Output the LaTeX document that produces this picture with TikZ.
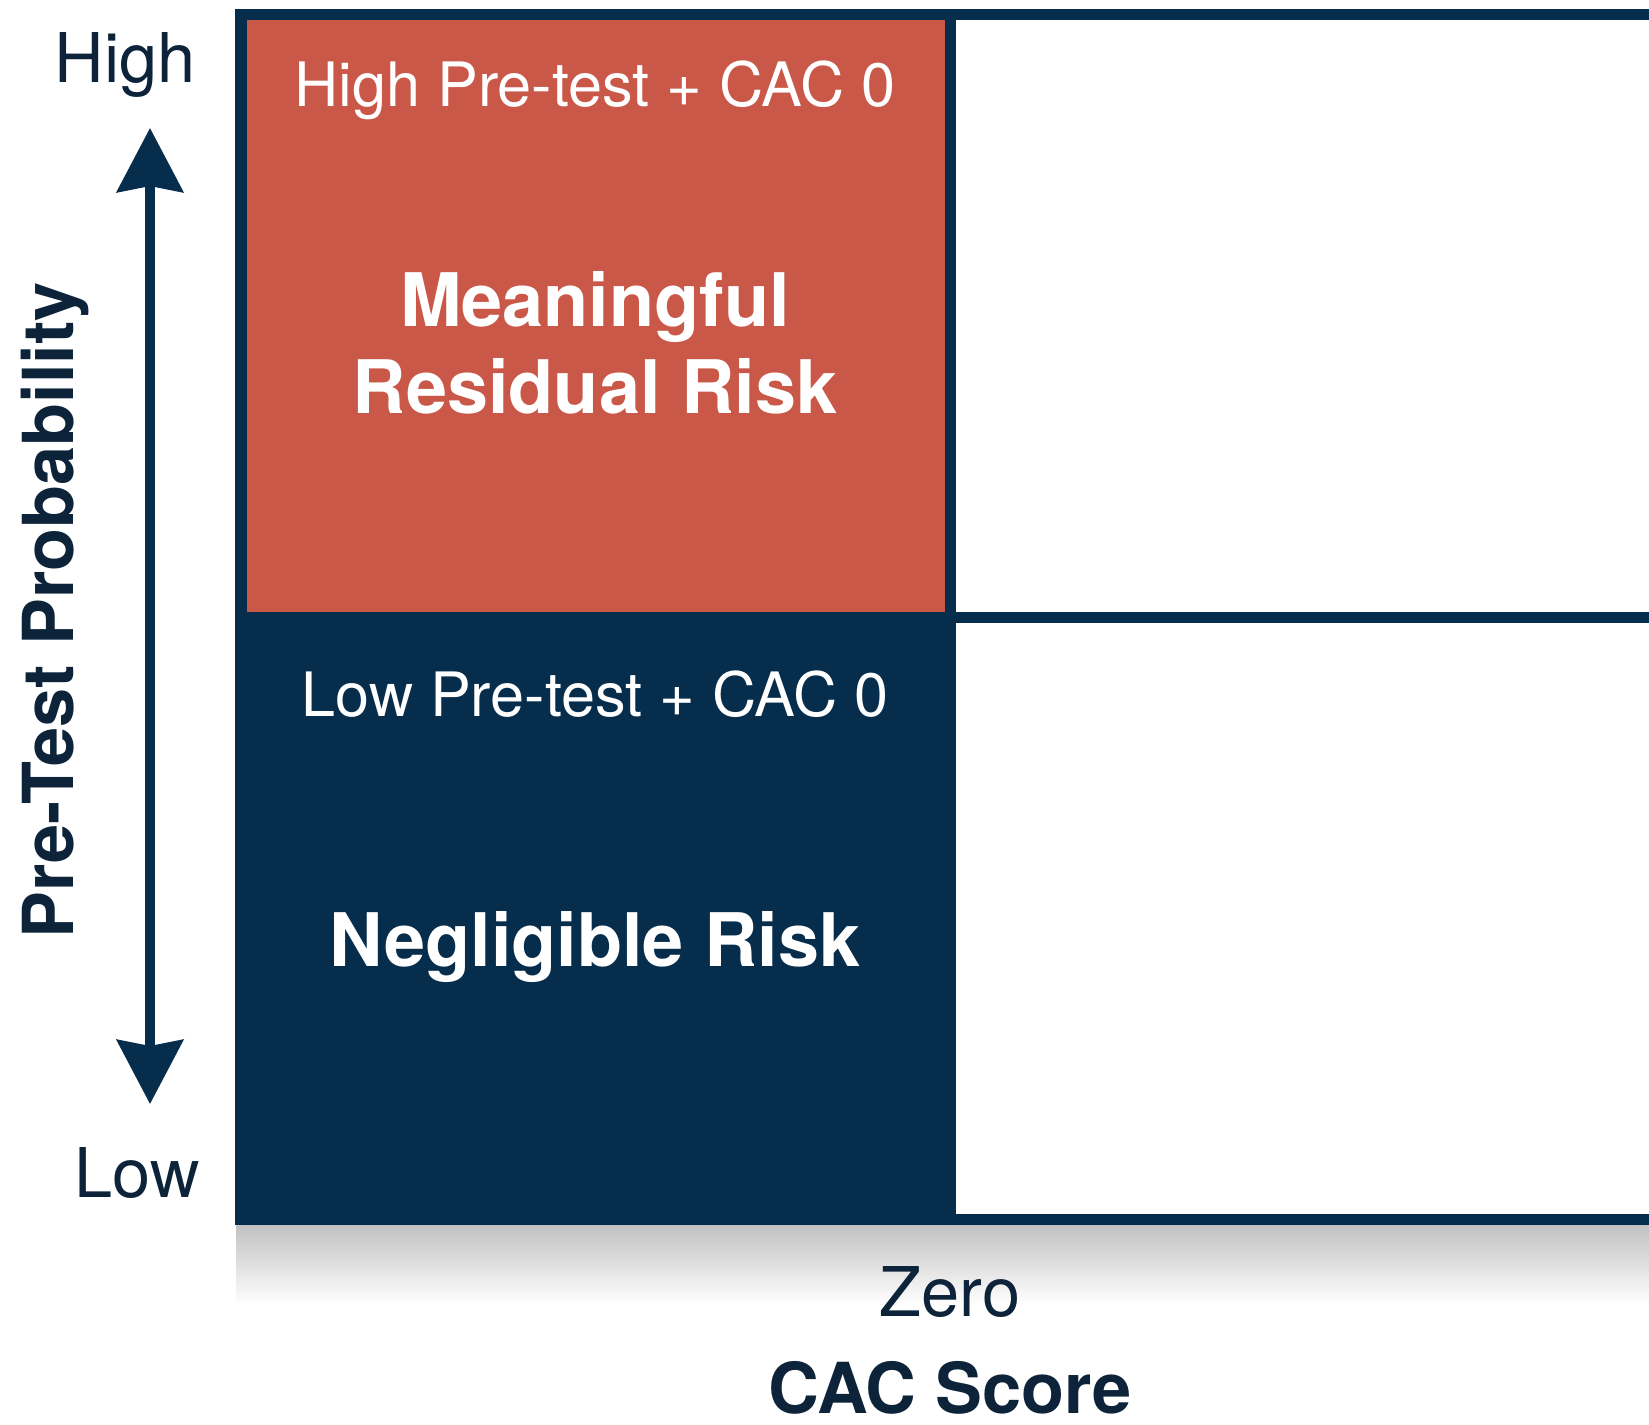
\documentclass[tikz,border=0pt]{standalone}
\usepackage{fontspec}
\setmainfont{TeX Gyre Heros}
\usetikzlibrary{arrows.meta}
\definecolor{riskred}{RGB}{202,88,72}
\definecolor{navy}{RGB}{7,45,77}
\definecolor{inkblue}{RGB}{12,35,58}
\tikzset{
  celltext/.style={text=white, font=\fontsize{17.4}{20}\selectfont},
  celltitle/.style={text=white, font=\bfseries\fontsize{21}{24.75}\selectfont, align=center},
  axistext/.style={text=inkblue, font=\fontsize{19.5}{23}\selectfont},
  axistitle/.style={text=inkblue, font=\bfseries\fontsize{20}{24}\selectfont},
  bothway/.style={navy, line width=2.6pt,
    {Stealth[length=0.64cm,width=0.66cm,inset=0.06cm]}-{Stealth[length=0.64cm,width=0.66cm,inset=0.06cm]}}
}
\begin{document}
\begin{tikzpicture}[x=0.01cm, y=-0.01cm]
  \useasboundingbox (0,0) rectangle (1649,1424);
  \fill[white] (0,0) rectangle (1649,1424);
  % Shadow under the grid.
  \shade[top color=black!24, bottom color=white] (236,1225) rectangle (1649,1305);
  % Grid.
  \coordinate (NW) at (235,9);
  \coordinate (SE) at (1670,1225);
  \fill[navy] (NW) rectangle (SE);
  \fill[riskred] (247,20) rectangle (945,612);
  \fill[white] (956,20) rectangle (1670,612);
  \fill[white] (956,623) rectangle (1670,1214);
  % Cell texts.
  \node[celltext] (hightag) at (595,90) {High Pre-test + CAC 0};
  \node[celltitle] (meaning) at (595,343) {Meaningful\\Residual Risk};
  \node[celltext] (lowtag) at (595,694) {Low Pre-test + CAC 0};
  \node[celltitle] (neglig) at (595,947) {Negligible Risk};
  % Vertical axis.
  \node[axistext] (high) at (125,65) {High};
  \node[axistext] (low) at (137,1173) {Low};
  \coordinate (up) at (150,128);
  \coordinate (down) at (150,1104);
  \draw[bothway] (up) -- (down);
  \node[axistitle, rotate=90] (ytitle) at (55,610) {Pre-Test Probability};
  % Horizontal axis.
  \node[axistext] (zero) at (950,1292) {Zero};
  \node[axistitle] (xtitle) at (950,1388) {CAC Score};
\end{tikzpicture}
\end{document}
